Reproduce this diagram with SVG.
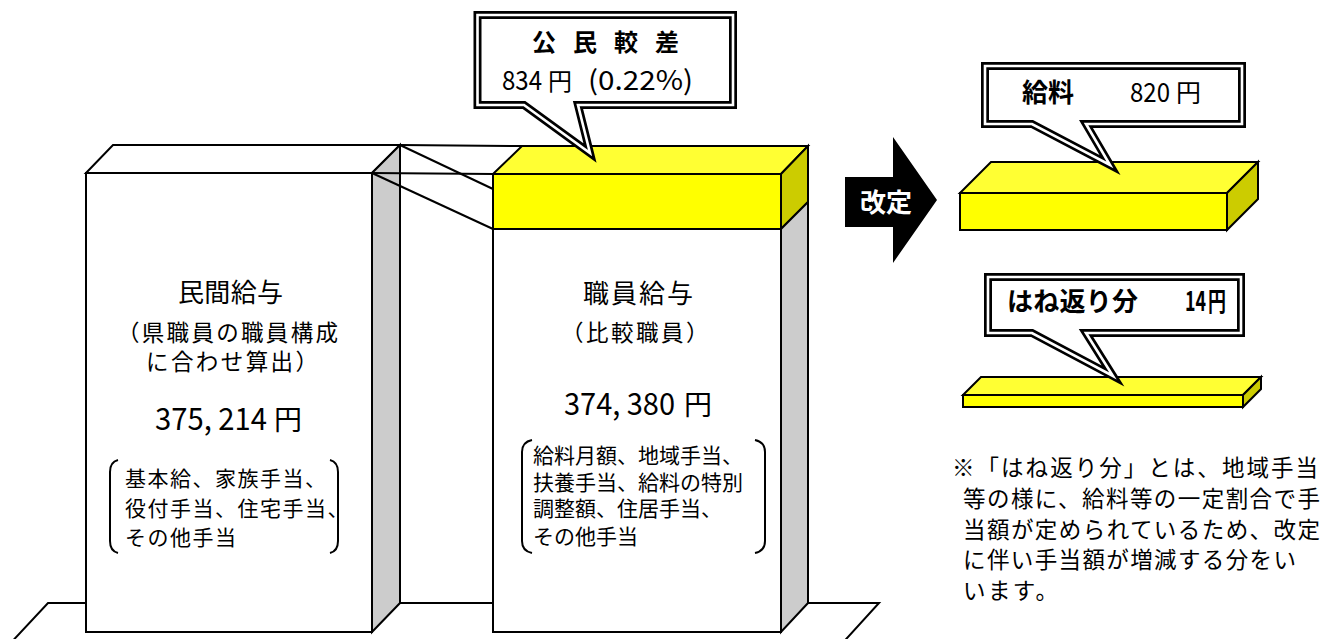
<svg xmlns="http://www.w3.org/2000/svg" width="1322" height="639" viewBox="0 0 1322 639">
<style>
text { font-family: "Noto Sans CJK JP", sans-serif; fill: #000; }
.ln { fill: none; stroke: #000; stroke-width: 2; stroke-linejoin: miter; }
.white { fill: #fff; stroke: #000; stroke-width: 2; stroke-linejoin: miter; }
.gray { fill: #cccccc; stroke: #000; stroke-width: 2; stroke-linejoin: miter; }
.yfront { fill: #ffff00; stroke: #000; stroke-width: 2; stroke-linejoin: miter; }
.ytop { fill: #ffff33; stroke: #000; stroke-width: 2; stroke-linejoin: miter; }
.yside { fill: #cccc00; stroke: #000; stroke-width: 2; stroke-linejoin: miter; }
.co-out { fill: #fff; stroke: #000; stroke-width: 8; stroke-linejoin: miter; stroke-miterlimit: 6; }
.co-in { fill: none; stroke: #fff; stroke-width: 2.6; stroke-linejoin: miter; stroke-miterlimit: 6; }
.bold { font-weight: bold; }
.note { font-size: 22.5px; }
.lst { font-size: 21px; }
</style>

<g id="floor">
<polygon class="white" points="48,603 879,603 838,648 6,648"/>
</g>

<g id="box-private">
<polygon class="white" points="86,173 113,145 400,145 372,173"/>
<polygon class="gray" points="372,173 400,145 400,603 372,632"/>
<rect class="white" x="86" y="173" width="286" height="459"/>
<text x="178" y="302" font-size="26" textLength="105">民間給与</text>
<text x="117" y="341" font-size="22.5" textLength="221">（県職員の職員構成</text>
<text x="146" y="370" font-size="22.5" textLength="172">に合わせ算出）</text>
<text x="155" y="430" font-size="31" textLength="112" lengthAdjust="spacingAndGlyphs">375, 214</text>
<text x="274" y="430" font-size="28">円</text>
<path class="ln" d="M118,460 Q110,462 110,472 V541 Q110,551 118,553"/>
<path class="ln" d="M330,460 Q338,462 338,472 V541 Q338,551 330,553"/>
<text class="lst" x="125" y="486" letter-spacing="1.5">基本給、家族手当、</text>
<text class="lst" x="125" y="516" letter-spacing="1.5">役付手当、住宅手当、</text>
<text class="lst" x="125" y="545" letter-spacing="1.5">その他手当</text>
</g>

<g id="box-staff">
<polygon class="ytop" points="493,174 522,146 808,146 781,174"/>
<polygon class="yside" points="781,174 808,146 808,202 781,229"/>
<polygon class="gray" points="781,229 808,202 808,603 781,632"/>
<rect class="yfront" x="493" y="174" width="288" height="55"/>
<rect class="white" x="493" y="229" width="288" height="403"/>
<text x="583" y="303" font-size="26" textLength="110">職員給与</text>
<text x="561" y="341" font-size="22.5" letter-spacing="2.5">（比較職員）</text>
<text x="564" y="415" font-size="31" textLength="111" lengthAdjust="spacingAndGlyphs">374, 380</text>
<text x="684" y="415" font-size="28">円</text>
<path class="ln" d="M532,440 Q522,442 522,452 V541 Q522,551 532,553"/>
<path class="ln" d="M755,440 Q765,442 765,452 V541 Q765,551 755,553"/>
<text class="lst" x="533" y="463">給料月額、地域手当、</text>
<text class="lst" x="533" y="490">扶養手当、給料の特別</text>
<text class="lst" x="533" y="516">調整額、住居手当、</text>
<text class="lst" x="533" y="544">その他手当</text>
</g>

<g id="connectors">
<line class="ln" x1="400" y1="145" x2="522" y2="146"/>
<line class="ln" x1="372" y1="173" x2="493" y2="174"/>
<line class="ln" x1="400" y1="145" x2="493" y2="189"/>
<line class="ln" x1="372" y1="173" x2="493" y2="229"/>
</g>

<g id="callout-diff">
<path class="co-out" d="M477.5,15 H733 V105 H578 L590,153 L524,105 H477.5 Z"/>
<path class="co-in" d="M477.5,15 H733 V105 H578 L590,153 L524,105 H477.5 Z"/>
<text class="bold" x="532" y="51" font-size="24" textLength="147">公 民 較 差</text>
<text x="502" y="90" font-size="27" textLength="40" lengthAdjust="spacingAndGlyphs">834</text>
<text x="548" y="90" font-size="24">円</text>
<text x="588" y="90" font-size="27" textLength="105" lengthAdjust="spacingAndGlyphs">(0.22%)</text>
</g>

<g id="arrow">
<polygon fill="#000" points="845,177 893,177 893,137 937,200 893,263 893,227 845,227"/>
<text class="bold" x="886" y="212" font-size="26" text-anchor="middle" style="fill:#fff">改定</text>
</g>

<g id="slab-salary">
<polygon class="ytop" points="960,193 991,162 1258,162 1227,193"/>
<polygon class="yside" points="1227,193 1258,162 1258,199 1227,230"/>
<rect class="yfront" x="960" y="193" width="267" height="37"/>
</g>

<g id="callout-salary">
<path class="co-out" d="M985,66 H1242 V124 H1086 L1110,165 L1032,124 H985 Z"/>
<path class="co-in" d="M985,66 H1242 V124 H1086 L1110,165 L1032,124 H985 Z"/>
<text class="bold" x="1022" y="102" font-size="26">給料</text>
<text x="1130" y="102" font-size="27" textLength="40" lengthAdjust="spacingAndGlyphs">820</text>
<text x="1176" y="102" font-size="25">円</text>
</g>

<g id="slab-rebound">
<polygon class="ytop" points="963,395 981,377 1261,377 1243,395"/>
<polygon class="yside" points="1243,395 1261,377 1261,389 1243,407"/>
<rect class="yfront" x="963" y="395" width="280" height="12"/>
</g>

<g id="callout-rebound">
<path class="co-out" d="M988,277 H1241 V333 H1086 L1113,376 L1032,333 H988 Z"/>
<path class="co-in" d="M988,277 H1241 V333 H1086 L1113,376 L1032,333 H988 Z"/>
<text class="bold" x="1007" y="311" font-size="26" textLength="131">はね返り分</text>
<text class="bold" x="1185" y="311" font-size="28" textLength="21" lengthAdjust="spacingAndGlyphs">14</text>
<text class="bold" x="1208" y="311" font-size="26" textLength="18" lengthAdjust="spacingAndGlyphs">円</text>
</g>

<g id="note">
<text class="note" x="952" y="476" textLength="366">※「はね返り分」とは、地域手当</text>
<text class="note" x="963" y="507" textLength="357">等の様に、給料等の一定割合で手</text>
<text class="note" x="963" y="538" textLength="357">当額が定められているため、改定</text>
<text class="note" x="963" y="568" textLength="333">に伴い手当額が増減する分をい</text>
<text class="note" x="963" y="599" textLength="95">います。</text>
</g>
</svg>
